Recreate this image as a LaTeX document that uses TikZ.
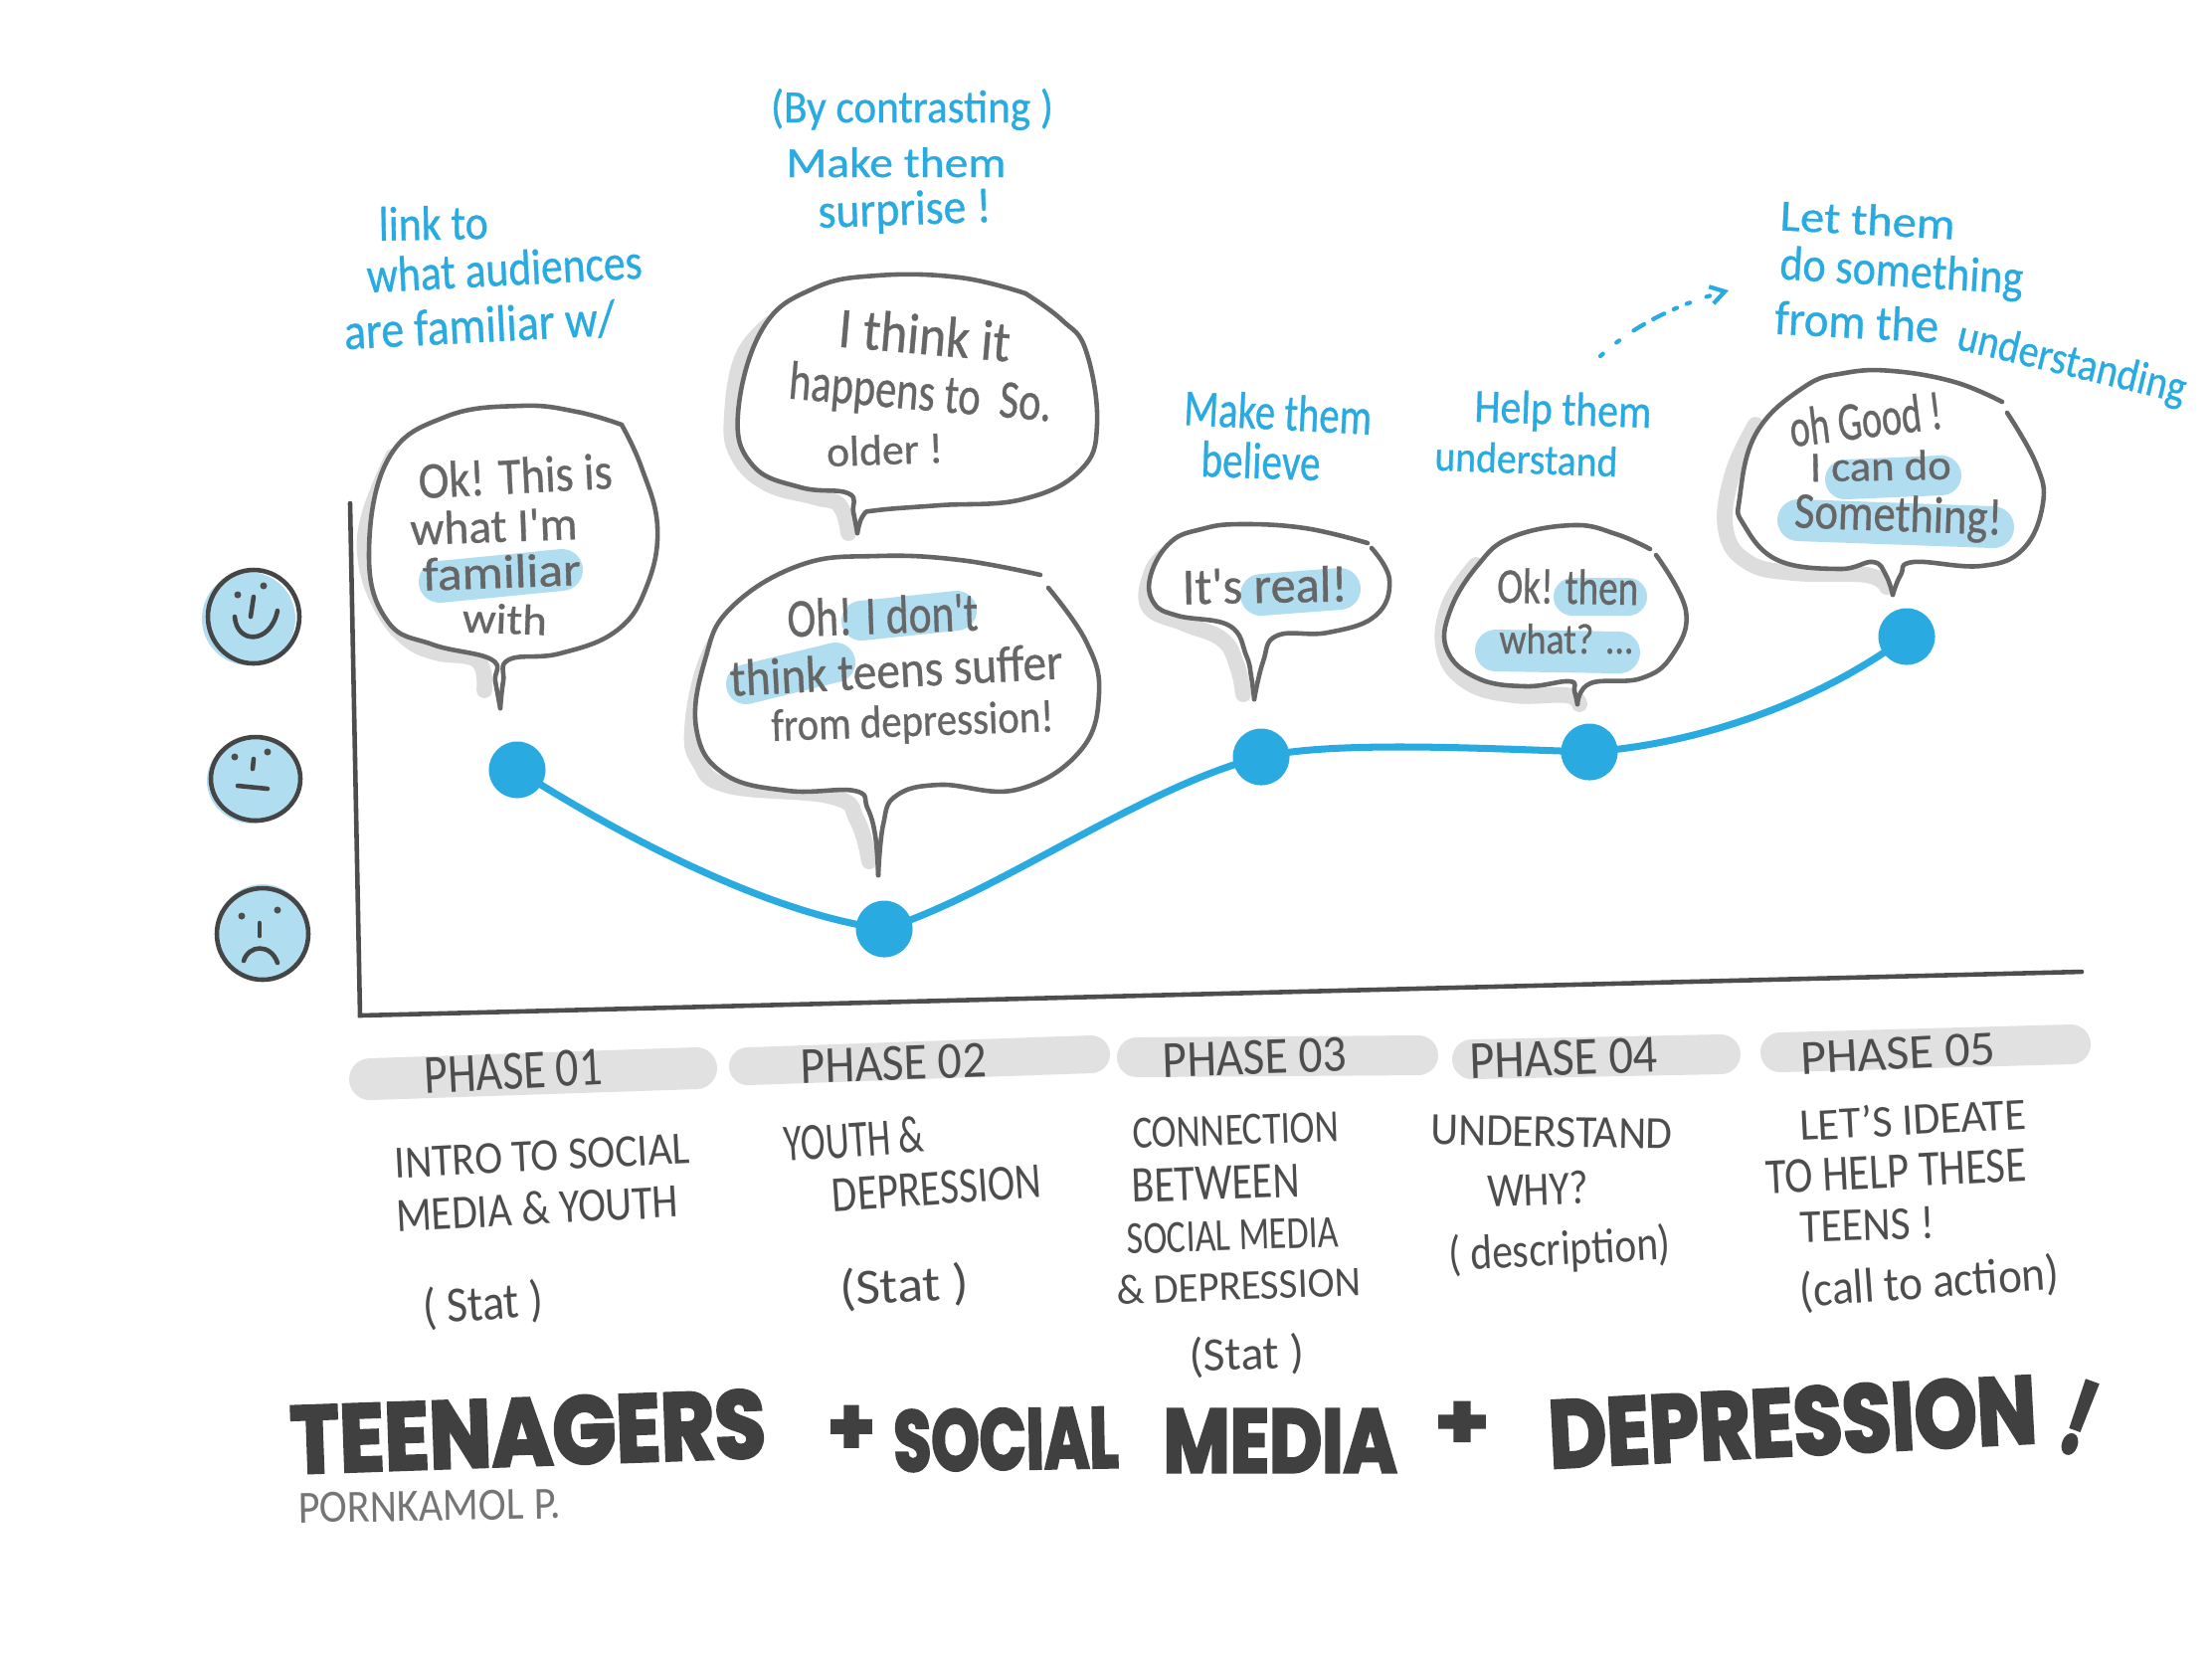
\documentclass[tikz,border=0pt]{standalone}
\usepackage{graphicx}
\usepackage{fontspec}
\setmainfont{Carlito}
\newfontfamily\markfont[FakeBold=0.7]{Carlito}
\newfontfamily\titlefont[FakeBold=3.5]{Poppins}
\usetikzlibrary{arrows.meta}
\definecolor{skyb}{HTML}{29ABE2}
\definecolor{hilite}{HTML}{B1DDF0}
\definecolor{inkg}{HTML}{666666}
\definecolor{inkd}{HTML}{4D4D4D}
\definecolor{inkt}{HTML}{404040}
\definecolor{shadeg}{HTML}{DDDDDD}
\definecolor{barg}{HTML}{E1E1E1}
\newlength{\pxu}\setlength{\pxu}{0.01cm}
\tikzset{
  lbl/.style={inner sep=0pt,outer sep=0pt,anchor=base},
  bluetxt/.style={lbl,text=skyb,font=\markfont},
  bubtxt/.style={lbl,text=inkg,font=\markfont},
  lowtxt/.style={lbl,text=inkd},
  ttltxt/.style={lbl,text=inkt,font=\titlefont\bfseries},
  autxt/.style={lbl,text=inkg!90},
  bubline/.style={draw=inkg,line width=1.3pt,line cap=round,line join=round},
  hl/.style={draw=hilite,line width=#1*\pxu,line cap=round},
  barln/.style={draw=barg,line width=#1*\pxu,line cap=round},
  shd/.style={draw=shadeg,line width=4.5pt,line cap=round,line join=round},
  dotnode/.style={circle,fill=skyb,draw=none,minimum size=0.57cm,inner sep=0pt},
  curveln/.style={draw=skyb,line width=2pt,line cap=round},
  axisln/.style={draw=inkd,line width=1.3pt,line cap=round},
  faceln/.style={draw=inkd!90!black,line width=1.3pt,line cap=round},
}
\newcommand{\lab}[7]{\node[#1,rotate=#4] (#2) at (#3) {\resizebox{#5\pxu}{#6\pxu}{#7}};}
\newcommand{\bubshadow}[1]{\draw[shd] plot[smooth,tension=.7] coordinates {#1};}
\newcommand{\bubfill}[2]{\fill[white] plot[smooth,tension=.7] coordinates {#1} -- plot[smooth,tension=.7] coordinates {#2} -- cycle;}
\newcommand{\bubstroke}[2]{\draw[bubline] plot[smooth,tension=.7] coordinates {#1}; \draw[bubline] plot[smooth,tension=.7] coordinates {#2};}
\begin{document}
\begin{tikzpicture}[x=0.01cm,y=-0.01cm]
\useasboundingbox (0,0) rectangle (2224,1668);
\fill[white] (0,0) rectangle (2224,1668);

% phase bars
\draw[barln=42] (372,1085) -- (700,1074);
\draw[barln=38] (752,1072) -- (1097,1060);
\draw[barln=40] (1143,1063) -- (1426,1061);
\draw[barln=40] (1480,1065) -- (1730,1060);
\draw[barln=40] (1790,1058) -- (2082,1050);

% axes
\coordinate (axtop) at (352,506);
\coordinate (axorg) at (362,1021);
\coordinate (axend) at (2093,977);
\draw[axisln] (axtop) -- (axorg) -- (axend);

% faces
\fill[hilite] (250,622) circle [x radius=47,y radius=47];
\draw[faceln] (255,620) circle [x radius=46,y radius=47];
\fill[inkd] (239,598) circle (3.5) (265,589) circle (3.5);
\draw[faceln] (255,600) -- (252,620);
\draw[faceln] (236,620) .. controls (238,648) and (272,648) .. (279,614);
\fill[hilite] (254,785) circle [x radius=46,y radius=43];
\draw[faceln] (257,783) circle [x radius=45,y radius=42];
\fill[inkd] (236,761) circle (3.5) (269,756) circle (3.5);
\draw[faceln] (255,763) -- (254,773);
\draw[faceln] (239,790) -- (269,793);
\fill[hilite] (264,937) circle [x radius=46,y radius=48];
\draw[faceln] (264,939) circle [x radius=46,y radius=46];
\fill[inkd] (243,921) circle (3.5) (279,915) circle (3.5);
\draw[faceln] (261,928) -- (261,941);
\draw[faceln] (245,966) .. controls (250,950) and (272,948) .. (279,968);

% bubble 1
\bubshadow{(395,459) (371,519) (368,565) (384,611) (409,642) (438,656) (480,664) (487,694)}
\bubfill{(503,712) (498,685) (494,663) (435,648) (390,625) (371,559) (390,462) (448,419) (524,408) (580,414) (625,427)}{(625,427) (645,470) (661,530) (650,590) (620,634) (563,657) (512,663) (506,685) (503,712)}
\draw[hl=42] (442,585) -- (565,573);
\bubstroke{(503,712) (498,685) (494,663) (435,648) (390,625) (371,559) (390,462) (448,419) (524,408) (580,414) (625,427)}{(625,427) (645,470) (661,530) (650,590) (620,634) (563,657) (512,663) (506,685) (503,712)}

% bubble 2
\bubshadow{(775,325) (747,358) (736,416) (741,456) (771,486) (820,500) (844,508) (853,536)}
\bubfill{(862,536) (858,515) (853,496) (805,490) (757,468) (742,416) (767,330) (818,290) (882,277) (965,279) (1031,295)}{(1031,295) (1068,322) (1092,353) (1103,427) (1086,473) (1028,502) (945,508) (882,513) (868,518) (862,536)}
\bubstroke{(862,536) (858,515) (853,496) (805,490) (757,468) (742,416) (767,330) (818,290) (882,277) (965,279) (1031,295)}{(1031,295) (1068,322) (1092,353) (1103,427) (1086,473) (1028,502) (945,508) (882,513) (868,518) (862,536)}

% bubble 3
\bubshadow{(735,620) (709,668) (696,732) (703,766) (733,790) (837,801) (862,825) (874,866)}
\bubfill{(883,880) (880,840) (872,812) (859,795) (792,795) (728,778) (700,732) (709,663) (735,611) (805,568) (882,559) (965,563) (1046,578)}{(1054,591) (1092,645) (1105,697) (1086,755) (1022,794) (945,789) (901,800) (888,829) (883,880)}
\draw[hl=40] (866,624) -- (962,614);
\draw[hl=40] (750,688) -- (840,666);
\bubstroke{(883,880) (880,840) (872,812) (859,795) (792,795) (728,778) (700,732) (709,663) (735,611) (805,568) (882,559) (965,563) (1046,578)}{(1054,591) (1092,645) (1105,697) (1086,755) (1022,794) (945,789) (901,800) (888,829) (883,880)}

% bubble 4
\bubshadow{(1172,558) (1158,575) (1155,610) (1191,627) (1229,643) (1244,670) (1250,698)}
\bubfill{(1261,703) (1258,680) (1253,659) (1236,629) (1184,619) (1160,606) (1157,578) (1177,545) (1208,532) (1246,527) (1312,531) (1375,546)}{(1379,551) (1397,583) (1383,619) (1335,636) (1284,639) (1270,665) (1261,703)}
\draw[hl=42] (1268,598) -- (1347,592);
\bubstroke{(1261,703) (1258,680) (1253,659) (1236,629) (1184,619) (1160,606) (1157,578) (1177,545) (1208,532) (1246,527) (1312,531) (1375,546)}{(1379,551) (1397,583) (1383,619) (1335,636) (1284,639) (1270,665) (1261,703)}

% bubble 5
\bubshadow{(1484,568) (1457,608) (1452,654) (1476,686) (1522,699) (1575,699) (1588,708)}
\bubfill{(1586,708) (1583,695) (1578,685) (1534,690) (1486,682) (1455,654) (1458,614) (1486,568) (1520,540) (1582,528) (1625,537) (1659,552)}{(1665,558) (1695,614) (1681,659) (1650,682) (1599,687) (1586,708)}
\draw[hl=38] (1581,600) -- (1637,600);
\draw[hl=42] (1504,654) -- (1628,656);
\bubstroke{(1586,708) (1583,695) (1578,685) (1534,690) (1486,682) (1455,654) (1458,614) (1486,568) (1520,540) (1582,528) (1625,537) (1659,552)}{(1665,558) (1695,614) (1681,659) (1650,682) (1599,687) (1586,708)}

% bubble 6
\bubshadow{(1765,427) (1742,476) (1735,532) (1757,565) (1803,576) (1876,578) (1897,590)}
\bubfill{(1903,598) (1896,578) (1883,565) (1849,572) (1787,563) (1753,527) (1749,501) (1766,435) (1814,389) (1855,375) (1903,373) (1965,384) (2013,404)}{(2018,415) (2047,466) (2054,506) (2034,552) (1992,569) (1924,565) (1911,578) (1903,598)}
\draw[hl=40] (1855,482) -- (1952,478);
\draw[hl=42] (1808,523) -- (2004,530);
\bubstroke{(1903,598) (1896,578) (1883,565) (1849,572) (1787,563) (1753,527) (1749,501) (1766,435) (1814,389) (1855,375) (1903,373) (1965,384) (2013,404)}{(2018,415) (2047,466) (2054,506) (2034,552) (1992,569) (1924,565) (1911,578) (1903,598)}

% curve and points
\node[dotnode] (n1) at (520,774) {};
\node[dotnode] (n2) at (889,934) {};
\node[dotnode] (n3) at (1268,761) {};
\node[dotnode] (n4) at (1598,756) {};
\node[dotnode] (n5) at (1917,640) {};
\draw[curveln] (n1.center) .. controls (620,838) and (770,918) .. (n2.center)
  .. controls (1000,900) and (1150,790) .. (n3.center)
  .. controls (1340,745) and (1480,752) .. (n4.center)
  .. controls (1710,748) and (1830,705) .. (n5.center);

% dashed arrow
\coordinate (arA) at (1609,358);
\coordinate (arB) at (1738,292);
\draw[draw=skyb,line width=1.2pt,line cap=round,dash pattern=on 1pt off 5pt on 1pt off 5pt on 3.5pt off 3pt on 3.5pt off 3pt on 1pt off 3pt,-{Straight Barb[length=4pt,width=5pt]}]
  (arA) .. controls (1645,325) and (1690,305) .. (arB);

% blue annotations
\lab{bluetxt}{b1a}{436,241}{1}{110}{34}{link to}
\lab{bluetxt}{b1b}{508,287}{3}{277}{35}{what audiences}
\lab{bluetxt}{b1c}{483,344}{3}{273}{36}{are familiar w/}
\lab{bluetxt}{b2a}{917,123}{0}{284}{34}{(By contrasting )}
\lab{bluetxt}{b2b}{901,178}{0}{221}{30}{Make them}
\lab{bluetxt}{b2c}{910,226}{2}{174}{34}{surprise !}
\lab{bluetxt}{b3a}{1284,432}{-3}{189}{36}{Make them}
\lab{bluetxt}{b3b}{1267,481}{-2}{120}{36}{believe}
\lab{bluetxt}{b4a}{1571,427}{-2}{178}{33}{Help them}
\lab{bluetxt}{b4b}{1534,476}{-2}{184}{30}{understand}
\lab{bluetxt}{b5a}{1877,236}{-3}{176}{31}{Let them}
\lab{bluetxt}{b5b}{1911,288}{-3.5}{245}{34}{do something}
\lab{bluetxt}{b5c}{1866,340}{-3}{165}{34}{from the}
\lab{bluetxt}{b5d}{2080,378}{-13.5}{235}{32}{understanding}

% bubble texts
\lab{bubtxt}{s1a}{519,496}{3}{195}{36}{Ok! This is}
\lab{bubtxt}{s1b}{497,545}{2}{168}{33}{what I'm}
\lab{bubtxt}{s1c}{505,591}{2}{159}{33}{familiar}
\lab{bubtxt}{s1d}{507,637}{-2}{85}{30}{with}
\lab{bubtxt}{s2a}{928,356}{-5}{173}{40}{I think it}
\lab{bubtxt}{s2b}{924,412}{-5}{265}{38}{happens to\ \ So.}
\lab{bubtxt}{s2c}{890,467}{2}{117}{30}{older !}
\lab{bubtxt}{s3a}{888,637}{2}{192}{38}{Oh! I don't}
\lab{bubtxt}{s3b}{902,691}{3}{335}{36}{think teens suffer}
\lab{bubtxt}{s3c}{918,740}{2}{284}{32}{from depression!}
\lab{bubtxt}{s4a}{1272,606}{1}{166}{36}{It's real!}
\lab{bubtxt}{s5a}{1576,607}{-1}{142}{35}{Ok! then}
\lab{bubtxt}{s5b}{1575,657}{0}{135}{30}{what? ...}
\lab{bubtxt}{s6a}{1878,440}{7}{154}{38}{oh Good !}
\lab{bubtxt}{s6b}{1891,483}{1}{142}{30}{I can do}
\lab{bubtxt}{s6c}{1908,534}{-2}{209}{36}{Something!}

% phase labels
\lab{lowtxt}{p1}{517,1095}{3}{179}{36}{PHASE 01}
\lab{lowtxt}{p2}{899,1086}{2}{187}{34}{PHASE 02}
\lab{lowtxt}{p3}{1262,1080}{2}{185}{34}{PHASE 03}
\lab{lowtxt}{p4}{1573,1081}{2}{189}{35}{PHASE 04}
\lab{lowtxt}{p5}{1909,1075}{3}{196}{32}{PHASE 05}

% phase descriptions
\lab{lowtxt}{d1a}{546,1177}{3}{297}{30}{INTRO TO SOCIAL}
\lab{lowtxt}{d1b}{541,1231}{3}{284}{33}{MEDIA \& YOUTH}
\lab{lowtxt}{d1c}{487,1327}{4}{121}{37}{( Stat )}
\lab{lowtxt}{d2a}{860,1163}{4}{141}{36}{YOUTH \&}
\lab{lowtxt}{d2b}{943,1211}{4}{211}{33}{DEPRESSION}
\lab{lowtxt}{d2c}{910,1309}{3}{130}{37}{(Stat )}
\lab{lowtxt}{d3a}{1243,1151}{2}{208}{30}{CONNECTION}
\lab{lowtxt}{d3b}{1223,1206}{2}{169}{33}{BETWEEN}
\lab{lowtxt}{d3c}{1240,1257}{2}{213}{30}{SOCIAL MEDIA}
\lab{lowtxt}{d3d}{1246,1307}{2}{246}{29}{\& DEPRESSION}
\lab{lowtxt}{d3e}{1254,1377}{2}{115}{35}{(Stat )}
\lab{lowtxt}{d4a}{1560,1153}{-1}{243}{30}{UNDERSTAND}
\lab{lowtxt}{d4b}{1547,1212}{2}{102}{33}{WHY?}
\lab{lowtxt}{d4c}{1569,1272}{3}{223}{36}{( description)}
\lab{lowtxt}{d5a}{1924,1141}{3}{228}{32}{LET'S IDEATE}
\lab{lowtxt}{d5b}{1907,1194}{3}{262}{33}{TO HELP THESE}
\lab{lowtxt}{d5c}{1878,1247}{2}{136}{32}{TEENS !}
\lab{lowtxt}{d5d}{1941,1305}{4}{261}{36}{(call to action)}

% title
\lab{ttltxt}{t1}{532,1473}{2}{478}{68}{TEENAGERS}
\lab{ttltxt}{t2}{856,1462}{0}{48}{48}{+}
\lab{ttltxt}{t3}{1012,1477}{1}{226}{61}{SOCIAL}
\lab{ttltxt}{t4}{1287,1480}{0}{235}{63}{MEDIA}
\lab{ttltxt}{t5}{1470,1456}{0}{55}{46}{+}
\lab{ttltxt}{t6}{1804,1463}{3}{491}{68}{DEPRESSION}
\lab{ttltxt}{t7}{2078,1460}{-20}{26}{74}{!}
\lab{autxt}{au}{432,1529}{1}{264}{30}{PORNKAMOL P.}
\end{tikzpicture}
\end{document}
